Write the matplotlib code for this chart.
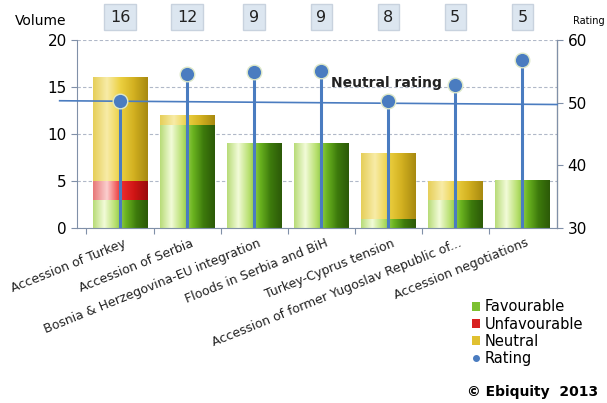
import numpy as np
import matplotlib
matplotlib.use("Agg")
import matplotlib.pyplot as plt
from matplotlib.colors import LinearSegmentedColormap
from matplotlib.patches import Patch
from matplotlib.lines import Line2D

topics = ["Accession of Turkey", "Accession of Serbia", "Bosnia & Herzegovina-EU integration",
          "Floods in Serbia and BiH", "Turkey-Cyprus tension",
          "Accession of former Yugoslav Republic of...", "Accession negotiations"]
favourable = [3, 11, 9, 9, 1, 3, 5]
unfavourable = [2, 0, 0, 0, 0, 0, 0]
neutral = [11, 1, 0, 0, 7, 2, 0]
totals = [16, 12, 9, 9, 8, 5, 5]
rating = [50.3, 54.6, 54.9, 55.0, 50.3, 52.8, 56.8]

green_cm = LinearSegmentedColormap.from_list("g", ["#b9dc7a", "#f2fbd8", "#b8e070", "#6bb420", "#3d7a0c", "#2c5a08"])
red_cm = LinearSegmentedColormap.from_list("r", ["#e87a7a", "#fbd0d0", "#ee3030", "#d01515", "#9a0c0c"])
yel_cm = LinearSegmentedColormap.from_list("y", ["#e6cf5a", "#f8eca8", "#ecd040", "#d2b020", "#a88a10"])
grad = np.linspace(0, 1, 64).reshape(1, -1)

fig = plt.figure(figsize=(6.07, 4.03), dpi=100)
ax = fig.add_axes([0.127, 0.434, 0.791, 0.467])
ax2 = ax.twinx()

x = np.arange(len(topics))
w = 0.41
for i in x:
    base = 0
    for vals, cm in [(favourable, green_cm), (unfavourable, red_cm), (neutral, yel_cm)]:
        v = vals[i]
        if v > 0:
            ax.imshow(grad, extent=[i - w, i + w, base, base + v], aspect="auto", cmap=cm, zorder=2)
            base += v

ax.set_xlim(-0.64, 6.52)
ax.set_ylim(0, 20)
ax.set_yticks([0, 5, 10, 15, 20])
ax.set_xticks(x - 0.5, minor=False)
ax.set_xticklabels([])
ax.tick_params(axis="x", length=4, color="#8090a8")
ax.tick_params(axis="y", labelsize=11, length=4, color="#8090a8")
ax.grid(axis="y", linestyle=(0, (3, 2)), color="#b0b8c8", linewidth=0.8, zorder=0)
ax.set_axisbelow(True)
for s in ["top"]:
    ax.spines[s].set_visible(False)
    ax2.spines[s].set_visible(False)
for s in ["left", "bottom"]:
    ax.spines[s].set_color("#8090a8")
ax2.spines["right"].set_color("#8090a8")
ax2.spines["left"].set_visible(False)
ax2.spines["bottom"].set_visible(False)

for i, t in enumerate(topics):
    ax.text(i + 0.05, -0.9, t, rotation=22, ha="right", va="top", fontsize=9,
            rotation_mode="anchor", color="#222222")

ax2.set_ylim(30, 60)
ax2.set_yticks([30, 40, 50, 60])
ax2.tick_params(axis="y", labelsize=11, length=4, color="#8090a8")
ax2.plot([-0.9, 6.52], [50.3, 49.7], color="#4a7cc0", linewidth=1.2, clip_on=False, zorder=3)
ax2.vlines(x, 30, rating, color="#4a7cc0", linewidth=2.2, zorder=4)
ax2.scatter(x, rating, s=110, color="#4a7cc0", edgecolor="#dde8c8", linewidth=1, zorder=5)
ax2.text(3.15, 53.2, "Neutral rating", fontsize=10, fontweight="bold", ha="left", va="center", color="#222222")

for i, n in enumerate(totals):
    ax.text(i, 22.4, str(n), ha="center", va="center", fontsize=11.5, color="#222222",
            bbox=dict(boxstyle="square,pad=0.35", facecolor="#dce6f0", edgecolor="#c8d2de"))

fig.text(0.025, 0.947, "Volume", fontsize=10, ha="left", va="center")
fig.text(0.944, 0.947, "Rating", fontsize=7, ha="left", va="center")

handles = [Patch(facecolor="#7cc030", label="Favourable"),
           Patch(facecolor="#d82020", label="Unfavourable"),
           Patch(facecolor="#e0c030", label="Neutral"),
           Line2D([], [], marker="o", linestyle="", color="#4a7cc0", markersize=4, label="Rating")]
fig.legend(handles=handles, loc="upper left", bbox_to_anchor=(0.765, 0.275), frameon=False,
           fontsize=10.5, handlelength=0.6, handleheight=0.6, handletextpad=0.3, labelspacing=0.15,
           borderpad=0)
fig.text(0.77, 0.027, "© Ebiquity  2013", fontsize=10, fontweight="bold", ha="left", va="center")

fig.savefig("out.png", dpi=100)
